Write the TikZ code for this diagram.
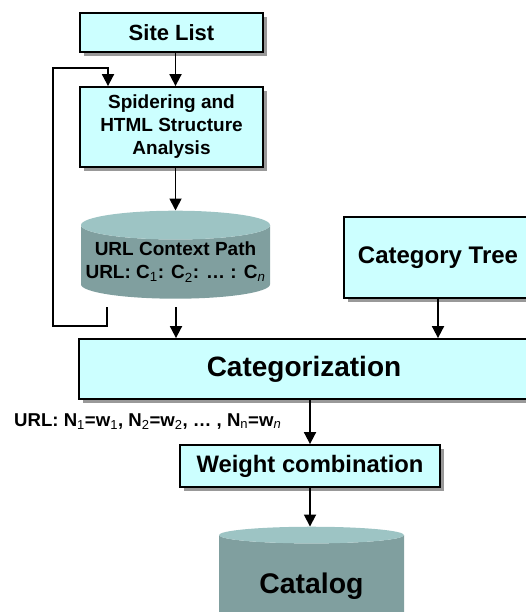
\documentclass[tikz,border=0pt]{standalone}
\usepackage{fontspec}
\setmainfont{Liberation Sans}
\usetikzlibrary{shapes,arrows.meta,positioning,calc,shadows}
\definecolor{boxfill}{HTML}{CCFFFF}
\definecolor{shadowgray}{HTML}{999999}
\definecolor{cylbody}{HTML}{809F9F}
\definecolor{cyltop}{HTML}{9DC4C4}
\newcommand{\bsz}[2]{\fontsize{#1}{#2}\selectfont\bfseries}
\newcommand{\sub}[1]{\textsubscript{\mdseries #1}}

\begin{document}
\begin{tikzpicture}[x=1pt, y=-1pt]
  \tikzstyle{block}=[rectangle, draw=black, fill=boxfill, line width=1.8pt, align=center, inner sep=0pt, drop shadow={shadow xshift=4pt, shadow yshift=-4pt, opacity=1, fill=shadowgray}]
  \tikzstyle{store}=[cylinder, shape border rotate=90, aspect=0.16, draw=none, cylinder uses custom fill, cylinder body fill=cylbody, cylinder end fill=cyltop, align=center, inner sep=0pt]
  \tikzstyle{arr}=[-{Triangle[length=12pt,width=12pt]}, line width=1.8pt]

  \useasboundingbox (0,0) rectangle (526,612);
  \clip (0,0) rectangle (526,612);

  % Bloques de proceso
  \node[block, minimum width=183pt, minimum height=39pt, font=\bsz{22}{26}] (site) at (171.5,32.5) {Site List};
  \node[block, minimum width=183pt, minimum height=80pt, font=\bsz{19}{23}] (spider) at (171.5,127) {Spidering and\\HTML Structure\\Analysis};
  \node[block, minimum width=188pt, minimum height=81pt, font=\bsz{24}{28}] (tree) at (438,257.5) {Category Tree};
  \node[block, minimum width=450pt, minimum height=60pt, font=\bsz{28}{32}] (cat) at (304,369) {Categorization};
  \node[block, minimum width=260pt, minimum height=42pt, font=\bsz{23.8}{28}] (wt) at (310,466) {Weight combination};

  % Almacenamiento
  \node[store, minimum width=189pt, minimum height=88pt, font=\bsz{19}{23}] (cyl) at (175.5,262) {URL Context Path\\URL: C\sub{1}: C\sub{2}: … : C\sub{\textit{n}}};
  \node[store, minimum width=185pt, minimum height=110pt, font=\bsz{28.4}{32}] (catalog) at (311.5,586) {Catalog};

  % Etiqueta
  \node[anchor=base west, inner sep=0pt, font=\bsz{18.6}{22}] (lbl) at (14,426) {URL: N\sub{1}=w\sub{1}, N\sub{2}=w\sub{2}, … , N\sub{n}=w\sub{\textit{n}}};

  % Conexiones
  \coordinate (cout) at (176,307);
  \coordinate (fb) at (107,307);
  \draw[arr] (site.south -| cyl.center) -- (spider.north -| cyl.center);
  \draw[arr] (spider.south -| cyl.center) -- (cyl.north);
  \draw[arr] (cout) -- (cout |- cat.north);
  \draw[arr] (fb) -- (107,326) -- (53,326) -- (53,68) -- (108,68) -- (spider.north -| 108,0);
  \draw[arr] (tree.south) -- (tree.south |- cat.north);
  \draw[arr] (cat.south -| wt.north) -- (wt.north);
  \draw[arr] (wt.south) -- (wt.south |- catalog.north);
\end{tikzpicture}
\end{document}
